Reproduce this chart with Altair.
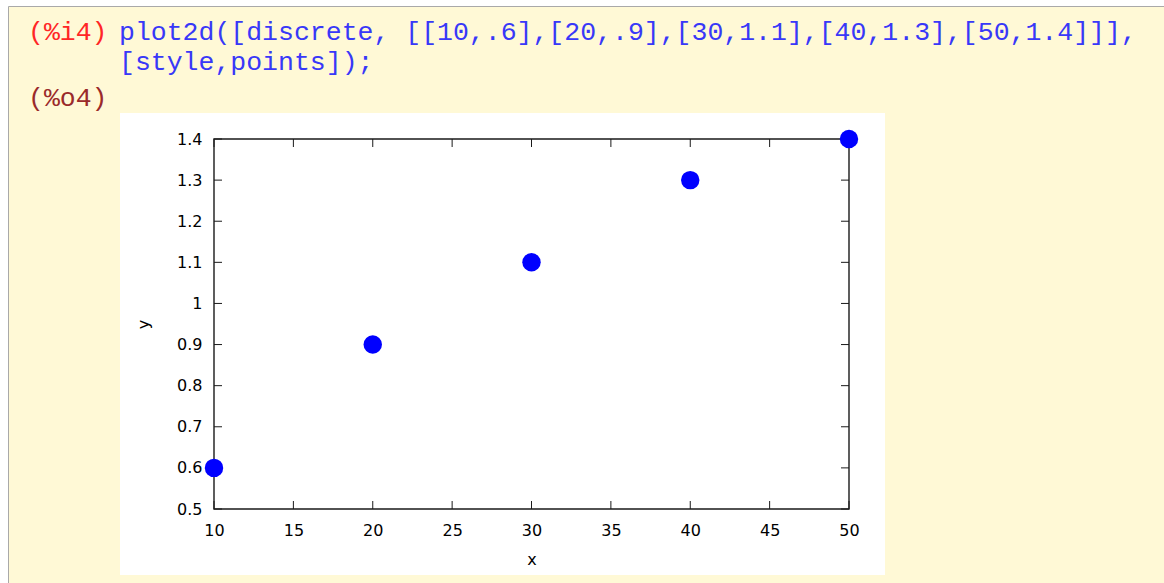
import altair as alt
import pandas as pd

# Session cell contents
input_prompt = "(%i4)"
output_prompt = "(%o4)"
input_lines = [
    "plot2d([discrete, [[10,.6],[20,.9],[30,1.1],[40,1.3],[50,1.4]]],",
    "[style,points]);",
]

# Discrete points
x_vals = [10, 20, 30, 40, 50]
y_vals = [0.6, 0.9, 1.1, 1.3, 1.4]

# Tick values
x_ticks = [10, 15, 20, 25, 30, 35, 40, 45, 50]
y_ticks = [0.5, 0.6, 0.7, 0.8, 0.9, 1.0, 1.1, 1.2, 1.3, 1.4]

W, H = 635, 370          # plot area
PAD_L, PAD_T = 214, 139  # plot area offset inside the page
PAGE_W, PAGE_H = 1164, 583

CELL_BG = "#FFF9D6"
CODE_BLUE = "#3838F8"
IN_RED = "#FF2626"
OUT_RED = "#9A2A2A"

one = pd.DataFrame({"k": [0]})
points = pd.DataFrame({"x": x_vals, "y": y_vals})
xt = pd.DataFrame({"x": x_ticks})
yt = pd.DataFrame({"y": y_ticks})

xscale = alt.Scale(domain=[10, 50], nice=False, zero=False)
yscale = alt.Scale(domain=[0.5, 1.4], nice=False, zero=False)

axis_common = dict(
    ticks=False, tickSize=0, domain=False, grid=False,
    labelFont="DejaVu Sans", labelFontSize=16, labelColor="#000000",
    labelFlush=False, labelOverlap=False,
    titleFont="DejaVu Sans", titleFontSize=16, titleFontWeight="normal",
    titleColor="#000000", titleBaseline="middle", titleAlign="center",
    zindex=1,
)
x_axis = alt.Axis(values=x_ticks, format="d", labelPadding=26,
                  labelBaseline="alphabetic", title="x",
                  titleX=W / 2, titleY=50, **axis_common)
y_axis = alt.Axis(values=y_ticks, format="~g", labelPadding=12, title="y",
                  titleX=-71, titleY=185, titleAngle=270, **axis_common)

X = alt.X("x:Q", scale=xscale, axis=x_axis)
Y = alt.Y("y:Q", scale=yscale, axis=y_axis)


def box(x0, x1, y0, y1, color):
    return alt.Chart(one).mark_rect(color=color).encode(
        x=alt.value(x0), x2=alt.value(x1), y=alt.value(y0), y2=alt.value(y1)
    )


def label(txt, x, y, color):
    return alt.Chart(one).mark_text(
        text=txt, align="left", baseline="alphabetic",
        font="Liberation Mono", fontSize=26.5, color=color,
    ).encode(x=alt.value(x), y=alt.value(y))


left_edge = -PAD_L
top_edge = -PAD_T
right_edge = PAGE_W - PAD_L
bottom_edge = PAGE_H - PAD_T

# white margins and grey cell border
top_strip = box(left_edge, right_edge, top_edge, top_edge + 6.5, "#ffffff")
left_strip = box(left_edge, left_edge + 8.5, top_edge, bottom_edge, "#ffffff")
border_top = alt.Chart(one).mark_rule(color="#a9a9a9", strokeWidth=1).encode(
    x=alt.value(left_edge + 8.5), x2=alt.value(right_edge),
    y=alt.value(top_edge + 6.5),
)
border_left = alt.Chart(one).mark_rule(color="#a9a9a9", strokeWidth=1).encode(
    x=alt.value(left_edge + 8.5),
    y=alt.value(top_edge + 6.5), y2=alt.value(bottom_edge),
)

# white canvas holding the plot
canvas = box(120 - PAD_L, 885 - PAD_L, 113 - PAD_T, 575 - PAD_T, "#ffffff")

# code text
t_in = label(input_prompt, 28 - PAD_L, 40 - PAD_T, IN_RED)
t_l1 = label(input_lines[0], 119 - PAD_L, 40 - PAD_T, CODE_BLUE)
t_l2 = label(input_lines[1], 119 - PAD_L, 70 - PAD_T, CODE_BLUE)
t_out = label(output_prompt, 28 - PAD_L, 106 - PAD_T, OUT_RED)

# plot frame
frame = alt.Chart(one).mark_rect(
    fillOpacity=0, stroke="#1a1a1a", strokeWidth=1.4
).encode(x=alt.value(0), x2=alt.value(W), y=alt.value(0), y2=alt.value(H))

# inward ticks on all four sides
TL = 8
tick_kw = dict(color="#1a1a1a", strokeWidth=1)
xb = alt.Chart(xt).mark_rule(**tick_kw).encode(
    x=X, y=alt.value(H - TL), y2=alt.value(H))
xtp = alt.Chart(xt).mark_rule(**tick_kw).encode(
    x=X, y=alt.value(0), y2=alt.value(TL))
yl = alt.Chart(yt).mark_rule(**tick_kw).encode(
    y=Y, x=alt.value(0), x2=alt.value(TL))
yr = alt.Chart(yt).mark_rule(**tick_kw).encode(
    y=Y, x=alt.value(W - TL), x2=alt.value(W))

dots = alt.Chart(points).mark_circle(size=340, color="#0000ff", opacity=1).encode(
    x=X, y=Y,
)

chart = alt.layer(
    top_strip, left_strip, border_top, border_left, canvas,
    t_in, t_l1, t_l2, t_out,
    frame, xb, xtp, yl, yr, dots,
).properties(
    width=W, height=H,
    padding={"left": PAD_L, "top": PAD_T, "right": PAGE_W - PAD_L - W, "bottom": PAGE_H - PAD_T - H},
    autosize=alt.AutoSizeParams(type="none"),
    background=CELL_BG,
).configure_view(strokeWidth=0)

chart.save("out.html", embed_options={"renderer": "svg", "actions": False})
